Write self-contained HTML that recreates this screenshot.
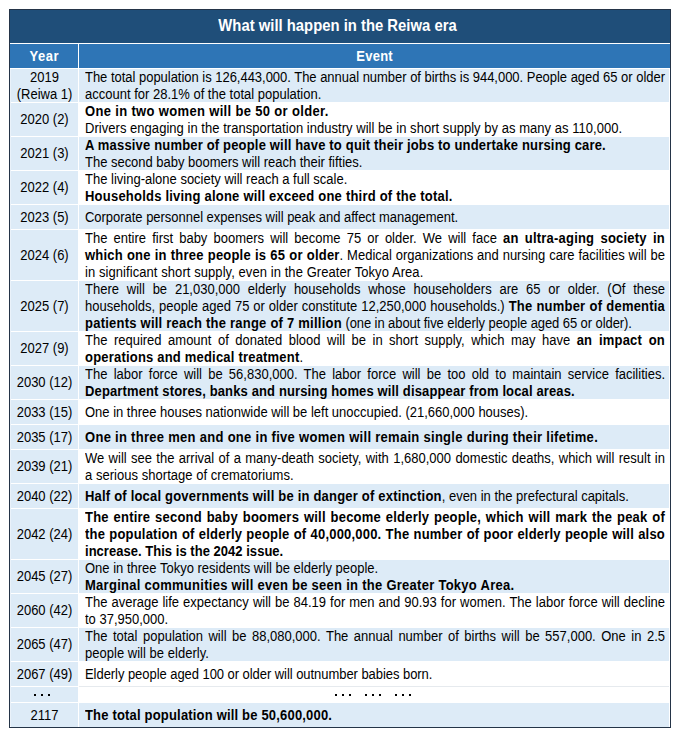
<!DOCTYPE html>
<html><head><meta charset="utf-8"><style>
*{margin:0;padding:0;box-sizing:border-box}
html,body{width:680px;height:739px;background:#fff;overflow:hidden}
body{position:relative;font-family:"Liberation Sans",sans-serif;font-size:13px;color:#000}
.a{position:absolute}
.frame{left:9px;top:9px;width:662px;height:719px;border:1px solid #243447;background:#FFFFFF}
.title{left:10px;top:10px;width:660px;height:33px;background:#1F4E79;color:#fff;font-weight:bold;font-size:14.85px;line-height:33px;text-align:center;padding-right:5px;padding-top:0px}
.sy{display:inline-block;transform:scaleY(1.08)}
.hy{left:10px;top:44px;width:68px;height:24px;background:#2E75B6;color:#fff;font-weight:bold;line-height:24px;text-align:center;padding-top:1px}
.he{left:79px;top:44px;width:591px;height:24px;background:#2E75B6;color:#fff;font-weight:bold;line-height:24px;text-align:center;padding-top:1px}
.yc div{transform:scaleY(1.08)}
.yc{left:11px;width:67px;background:#DDEBF7;display:flex;flex-direction:column;justify-content:center;align-items:center;line-height:17px;white-space:nowrap}
.ec{left:79px;width:590px;display:flex;flex-direction:column;justify-content:center;padding-left:6px;line-height:17px}
.ln{width:580px;white-space:nowrap;transform:scaleY(1.08)}
.j{text-align:justify;text-align-last:justify}
b{font-weight:bold}
.dot{position:absolute;width:2px;height:2px;background:#000}
</style></head>
<body>
<div class="a frame"></div>
<div class="a title"><span class="sy">What will happen in the Reiwa era</span></div>
<div class="a hy"><span class="sy" style="letter-spacing:0.5px;margin-right:-0.5px">Year</span></div>
<div class="a he"><span class="sy" style="letter-spacing:0.25px;margin-right:-0.25px">Event</span></div>
<div class="a yc" style="top:69px;height:33px"><div>2019</div><div>(Reiwa 1)</div></div>
<div class="a ec" style="top:69px;height:33px;background:#DDEBF7"><div class="ln j"><span style="letter-spacing:-0.028px">The total population is 126,443,000. The annual number of births is 944,000. People aged 65 or older</span></div><div class="ln">account for 28.1% of the total population.</div></div>
<div class="a yc" style="top:103px;height:33px"><div>2020 (2)</div></div>
<div class="a ec" style="top:103px;height:33px;background:#FFFFFF"><div class="ln"><b style="letter-spacing:0.338px">One in two women will be 50 or older.</b></div><div class="ln"><span style="letter-spacing:0.036px">Drivers engaging in the transportation industry will be in short supply by as many as 110,000.</span></div></div>
<div class="a yc" style="top:137px;height:33px"><div>2021 (3)</div></div>
<div class="a ec" style="top:137px;height:33px;background:#DDEBF7"><div class="ln"><b style="letter-spacing:0.174px">A massive number of people will have to quit their jobs to undertake nursing care.</b></div><div class="ln"><span style="letter-spacing:-0.018px">The second baby boomers will reach their fifties.</span></div></div>
<div class="a yc" style="top:171px;height:33px"><div>2022 (4)</div></div>
<div class="a ec" style="top:171px;height:33px;background:#FFFFFF"><div class="ln">The living-alone society will reach a full scale.</div><div class="ln"><b style="letter-spacing:0.219px">Households living alone will exceed one third of the total.</b></div></div>
<div class="a yc" style="top:205px;height:24px"><div>2023 (5)</div></div>
<div class="a ec" style="top:205px;height:24px;background:#DDEBF7"><div class="ln"><span style="letter-spacing:-0.027px">Corporate personnel expenses will peak and affect management.</span></div></div>
<div class="a yc" style="top:230px;height:50px"><div>2024 (6)</div></div>
<div class="a ec" style="top:230px;height:50px;background:#FFFFFF"><div class="ln j">The entire first baby boomers will become 75 or older. We will face <b style="letter-spacing:0.2px">an ultra-aging society in</b></div><div class="ln j"><b style="letter-spacing:0.2px">which one in three people is 65 or older</b>. Medical organizations and nursing care facilities will be</div><div class="ln"><span style="letter-spacing:0.071px">in significant short supply, even in the Greater Tokyo Area.</span></div></div>
<div class="a yc" style="top:281px;height:50px"><div>2025 (7)</div></div>
<div class="a ec" style="top:281px;height:50px;background:#DDEBF7"><div class="ln j">There will be 21,030,000 elderly households whose householders are 65 or older. (Of these</div><div class="ln j">households, people aged 75 or older constitute 12,250,000 households.) <b style="letter-spacing:0.2px">The number of dementia</b></div><div class="ln"><b style="letter-spacing:0.233px">patients will reach the range of 7 million</b><span style="letter-spacing:-0.078px"> (one in about five elderly people aged 65 or older).</span></div></div>
<div class="a yc" style="top:332px;height:33px"><div>2027 (9)</div></div>
<div class="a ec" style="top:332px;height:33px;background:#FFFFFF"><div class="ln j">The required amount of donated blood will be in short supply, which may have <b style="letter-spacing:0.2px">an impact on</b></div><div class="ln"><b style="letter-spacing:0.2px">operations and medical treatment</b>.</div></div>
<div class="a yc" style="top:366px;height:33px"><div>2030 (12)</div></div>
<div class="a ec" style="top:366px;height:33px;background:#DDEBF7"><div class="ln j">The labor force will be 56,830,000. The labor force will be too old to maintain service facilities.</div><div class="ln"><b style="letter-spacing:0.135px">Department stores, banks and nursing homes will disappear from local areas.</b></div></div>
<div class="a yc" style="top:400px;height:24px"><div>2033 (15)</div></div>
<div class="a ec" style="top:400px;height:24px;background:#FFFFFF"><div class="ln"><span style="letter-spacing:-0.007px">One in three houses nationwide will be left unoccupied. (21,660,000 houses).</span></div></div>
<div class="a yc" style="top:425px;height:24px"><div>2035 (17)</div></div>
<div class="a ec" style="top:425px;height:24px;background:#DDEBF7"><div class="ln"><b style="letter-spacing:0.291px">One in three men and one in five women will remain single during their lifetime.</b></div></div>
<div class="a yc" style="top:450px;height:33px"><div>2039 (21)</div></div>
<div class="a ec" style="top:450px;height:33px;background:#FFFFFF"><div class="ln j">We will see the arrival of a many-death society, with 1,680,000 domestic deaths, which will result in</div><div class="ln"><span style="letter-spacing:0.035px">a serious shortage of crematoriums.</span></div></div>
<div class="a yc" style="top:484px;height:24px"><div>2040 (22)</div></div>
<div class="a ec" style="top:484px;height:24px;background:#DDEBF7"><div class="ln"><b style="letter-spacing:0.2px">Half of local governments will be in danger of extinction</b>, even in the prefectural capitals.</div></div>
<div class="a yc" style="top:509px;height:50px"><div>2042 (24)</div></div>
<div class="a ec" style="top:509px;height:50px;background:#FFFFFF"><div class="ln j"><b style="letter-spacing:0.2px">The entire second baby boomers will become elderly people, which will mark the peak of</b></div><div class="ln j"><b style="letter-spacing:0.2px">the population of elderly people of 40,000,000. The number of poor elderly people will also</b></div><div class="ln"><b style="letter-spacing:0.03px">increase. This is the 2042 issue.</b></div></div>
<div class="a yc" style="top:560px;height:33px"><div>2045 (27)</div></div>
<div class="a ec" style="top:560px;height:33px;background:#DDEBF7"><div class="ln">One in three Tokyo residents will be elderly people.</div><div class="ln"><b style="letter-spacing:0.27px">Marginal communities will even be seen in the Greater Tokyo Area.</b></div></div>
<div class="a yc" style="top:594px;height:33px"><div>2060 (42)</div></div>
<div class="a ec" style="top:594px;height:33px;background:#FFFFFF"><div class="ln j">The average life expectancy will be 84.19 for men and 90.93 for women. The labor force will decline</div><div class="ln">to 37,950,000.</div></div>
<div class="a yc" style="top:628px;height:33px"><div>2065 (47)</div></div>
<div class="a ec" style="top:628px;height:33px;background:#DDEBF7"><div class="ln j">The total population will be 88,080,000. The annual number of births will be 557,000. One in 2.5</div><div class="ln"><span style="letter-spacing:0.022px">people will be elderly.</span></div></div>
<div class="a yc" style="top:662px;height:24px"><div>2067 (49)</div></div>
<div class="a ec" style="top:662px;height:24px;background:#FFFFFF"><div class="ln"><span style="letter-spacing:-0.053px">Elderly people aged 100 or older will outnumber babies born.</span></div></div>
<div class="a yc" style="top:687px;height:15px"></div>
<div class="a ec" style="top:687px;height:15px;background:#FFFFFF"></div>
<div class="a yc" style="top:703px;height:24px"><div>2117</div></div>
<div class="a ec" style="top:703px;height:24px;background:#DDEBF7"><div class="ln"><b style="letter-spacing:0.182px">The total population will be 50,600,000.</b></div></div>
<div class="a" style="left:10px;top:69px;width:1px;height:657px;background:#EAF2FA"></div>
<div class="a" style="left:79px;top:686px;width:590px;height:1px;background:#E6EAEE"></div>
<div class="dot" style="left:34px;top:694px"></div><div class="dot" style="left:41px;top:694px"></div><div class="dot" style="left:48px;top:694px"></div><div class="dot" style="left:335px;top:694px"></div><div class="dot" style="left:342px;top:694px"></div><div class="dot" style="left:349px;top:694px"></div><div class="dot" style="left:365px;top:694px"></div><div class="dot" style="left:372px;top:694px"></div><div class="dot" style="left:379px;top:694px"></div><div class="dot" style="left:395px;top:694px"></div><div class="dot" style="left:402px;top:694px"></div><div class="dot" style="left:409px;top:694px"></div>
</body></html>
